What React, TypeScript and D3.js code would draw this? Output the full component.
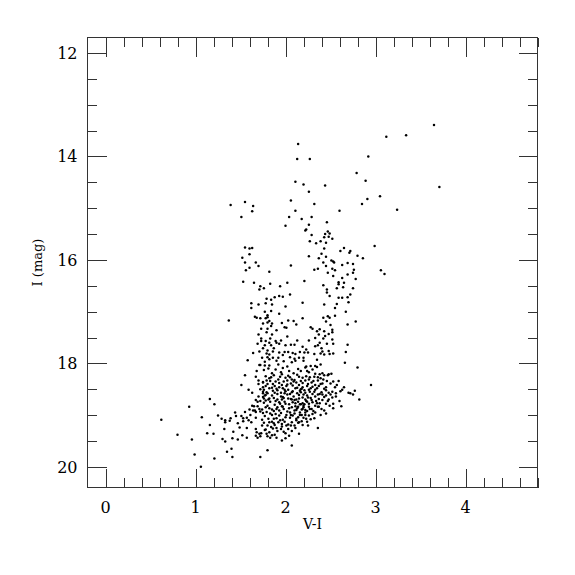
import React from 'react';
import * as d3 from 'd3';

type Pt = [number, number];

// Bright, sparse stars (upper part of the diagram)
const brightStars: Pt[] = [
  [3.65,13.39],[3.12,13.62],[3.34,13.59],[2.14,13.76],[2.13,14.05],[2.27,14.05],[2.92,14.0],[2.79,14.32],[2.89,14.47],[3.71,14.59],
  [2.11,14.49],[2.2,14.54],[2.44,14.56],[2.26,14.68],[2.06,14.85],[2.32,14.92],[2.91,14.82],[2.85,14.92],[3.05,14.77],[3.24,15.03],
  [2.6,15.05],[1.39,14.94],[1.55,14.88],[1.64,14.96],[1.63,15.06],[1.51,15.17],[2.11,15.05],[2.04,15.17],[2.18,15.21],[2.29,15.17],
  [2.0,15.34],[2.26,15.32],[2.46,15.27],[2.23,15.41],[2.22,15.43],[2.29,15.52],[2.44,15.5],[2.47,15.45],[2.49,15.49],[2.43,15.56],
  [2.48,15.55],[2.52,15.59],[3.06,16.2],[3.1,16.27],
];

// Red branch between I = 15.6 and 18
const redBranch: Pt[] = [
  [2.39,15.64],[2.27,15.64],[2.34,15.68],[2.45,15.67],[2.43,15.78],[2.65,15.77],[2.72,15.83],[2.71,15.86],[2.61,15.83],[2.99,15.73],
  [2.4,15.88],[2.45,15.94],[2.37,15.97],[2.26,15.93],[2.51,16.01],[2.53,16.03],[2.54,16.05],[2.42,16.05],[2.45,16.12],[2.86,15.97],
  [2.8,15.92],[2.69,16.06],[2.75,16.08],[2.63,16.1],[2.36,16.17],[2.32,16.19],[2.52,16.17],[2.55,16.2],[2.76,16.19],[2.75,16.25],
  [2.47,16.25],[2.53,16.31],[2.69,16.28],[2.63,16.35],[2.78,16.37],[2.59,16.43],[2.65,16.44],[2.59,16.47],[2.21,16.41],[2.42,16.49],
  [2.64,16.53],[2.57,16.55],[2.75,16.55],[2.46,16.57],[2.46,16.63],[2.72,16.67],[2.49,16.7],[2.59,16.73],[2.63,16.73],[2.69,16.72],
  [2.57,16.85],[2.7,16.82],[2.43,16.86],[2.55,16.93],[2.67,17.0],[2.55,17.08],[2.47,17.09],[2.42,17.12],[2.49,17.12],[2.45,17.19],
  [2.5,17.26],[2.78,17.19],[2.69,17.25],[2.52,17.35],[2.28,17.3],[2.3,17.33],[2.38,17.34],[2.35,17.38],[2.43,17.38],[2.48,17.43],
  [2.52,17.4],[2.37,17.44],[2.44,17.47],[2.33,17.51],[2.42,17.52],[2.52,17.54],[2.26,17.56],[2.38,17.6],[2.46,17.62],[2.53,17.62],
  [2.33,17.67],[2.36,17.65],[2.4,17.71],[2.23,17.73],[2.41,17.77],[2.48,17.76],[2.69,17.64],[2.19,17.68],[2.32,17.82],[2.39,17.81],
  [2.43,17.83],[2.49,17.82],[2.53,17.81],[2.67,17.78],[2.16,17.78],[2.21,17.79],[2.25,17.79],[2.11,17.82],[2.15,17.89],[2.2,17.89],
  [2.35,17.93],
];

// Bluer stars between I = 15.6 and 18
const blueSide: Pt[] = [
  [1.55,15.76],[1.6,15.78],[1.63,15.77],[1.6,15.89],[1.52,15.96],[1.55,16.05],[1.67,16.05],[1.7,16.12],[1.6,16.15],[1.56,16.2],
  [1.82,16.23],[2.06,16.11],[1.53,16.42],[1.65,16.44],[1.83,16.46],[1.72,16.51],[1.76,16.55],[1.71,16.57],[1.94,16.51],[2.02,16.44],
  [2.05,16.67],[1.93,16.7],[1.97,16.71],[1.88,16.72],[1.79,16.75],[1.84,16.77],[1.62,16.84],[1.78,16.84],[1.85,16.86],[1.7,16.86],
  [2.0,16.9],[1.62,16.93],[2.19,16.83],[1.77,17.0],[1.84,16.99],[1.8,17.07],[1.93,17.04],[1.66,17.1],[1.68,17.12],[1.78,17.13],
  [1.8,17.11],[1.72,17.13],[1.82,17.18],[1.37,17.17],[1.75,17.23],[1.8,17.21],[1.85,17.23],[1.96,17.22],[2.03,17.17],[2.09,17.18],
  [2.12,17.25],[1.99,17.3],[2.01,17.31],[1.84,17.28],[1.73,17.33],[1.8,17.33],[1.79,17.4],[1.7,17.44],[1.85,17.44],[1.9,17.36],
  [2.19,17.13],[2.02,17.48],[1.73,17.52],[1.73,17.57],[1.83,17.52],[1.78,17.57],[1.82,17.6],[1.89,17.57],[1.9,17.6],[1.93,17.62],
  [1.95,17.56],[1.69,17.62],[2.0,17.65],[1.77,17.65],[1.84,17.65],[2.06,17.64],[2.1,17.64],[2.13,17.56],[1.75,17.71],[1.87,17.71],
  [1.8,17.75],[1.71,17.77],[1.86,17.77],[1.93,17.79],[1.99,17.78],[2.03,17.78],[1.64,17.8],[1.79,17.81],[1.82,17.83],[1.97,17.84],
  [2.08,17.8],[1.74,17.89],[1.8,17.88],[1.86,17.89],[1.92,17.89],[2.05,17.88],[2.1,17.91],[1.82,17.92],
];

// Faint blue stars (V-I < 1.78, I > 17.9)
const faintBlue: Pt[] = [
  [1.58,17.94],[1.71,18.03],[1.72,18.03],[1.77,18.04],[1.68,18.15],[1.55,18.23],[1.67,18.26],[1.7,18.33],[1.75,18.37],[1.7,18.4],
  [1.51,18.42],[1.75,18.46],[1.72,18.5],[1.59,18.51],[1.63,18.57],[1.75,18.55],[1.75,18.58],[1.77,18.62],[1.7,18.64],[1.67,18.71],
  [1.69,18.74],[1.72,18.73],[1.76,18.68],[1.65,18.83],[1.69,18.83],[1.71,18.88],[1.72,18.93],[1.64,18.91],[1.66,18.91],[1.6,18.89],
  [1.67,18.94],[1.61,19.0],[1.63,18.82],[1.55,18.94],[1.51,19.02],[1.44,18.95],[1.45,19.02],[1.39,19.06],[1.38,19.11],[1.47,19.16],
  [1.53,19.12],[1.53,19.06],[1.57,19.05],[1.59,19.1],[1.62,19.14],[1.67,19.05],[1.75,18.96],[1.74,19.09],[1.67,19.27],[1.74,19.2],
  [1.68,19.33],[1.71,19.36],[1.73,19.35],[1.69,19.44],[1.72,19.41],[1.77,19.29],[1.67,19.4],[1.57,19.44],[1.57,19.25],[1.49,19.24],
  [1.52,19.39],[1.47,19.47],[1.42,19.32],[1.41,19.45],[1.16,18.69],[1.21,18.79],[0.93,18.84],[1.07,19.04],[1.25,19.01],[1.29,19.07],
  [1.33,19.1],[1.33,19.14],[0.62,19.09],[1.16,19.19],[1.2,19.36],[1.13,19.35],[1.32,19.27],[0.8,19.38],[0.96,19.47],[1.3,19.46],
  [1.33,19.51],[1.4,19.65],[1.35,19.71],[0.99,19.76],[1.21,19.84],[1.41,19.81],[1.72,19.81],[1.06,20.0],
];

// Dense faint clump (V-I > 1.74, I > 17.9)
const denseClump: Pt[] = [
  [1.77,17.97],[1.82,18.04],[1.9,17.95],[1.92,18.02],[1.98,17.96],[2.02,18.06],[2.07,17.98],[2.11,17.95],[2.2,17.95],[2.23,18.06],
  [2.28,18.05],[2.33,18.05],[2.35,18.07],[2.39,18.02],[2.66,17.99],[2.8,18.08],
  [1.76,18.13],[1.81,18.1],[1.85,18.19],[1.89,18.12],[1.95,18.17],[1.97,18.09],[2.04,18.15],[2.09,18.19],[2.14,18.11],[2.17,18.15],
  [2.22,18.08],[2.26,18.17],[2.3,18.12],[2.38,18.21],[2.41,18.19],[2.47,18.23],[2.51,18.2],
  [1.78,18.25],[1.82,18.29],[1.87,18.23],[1.92,18.31],[1.96,18.21],[2.0,18.28],[2.03,18.24],[2.07,18.31],[2.13,18.22],[2.19,18.28],
  [2.23,18.25],[2.26,18.31],[2.32,18.26],[2.36,18.33],[2.39,18.29],[2.43,18.23],[2.48,18.21],[2.53,18.35],[2.59,18.34],
  [1.75,18.36],[1.8,18.4],[1.83,18.34],[1.88,18.44],[1.93,18.38],[1.96,18.42],[1.98,18.35],[2.01,18.44],[2.06,18.39],[2.09,18.35],
  [2.15,18.42],[2.19,18.38],[2.24,18.44],[2.29,18.37],[2.33,18.42],[2.39,18.4],[2.41,18.39],[2.45,18.46],[2.5,18.39],[2.55,18.46],
  [2.57,18.42],[2.65,18.46],[2.95,18.42],
  [1.76,18.51],[1.79,18.56],[1.82,18.48],[1.86,18.53],[1.9,18.49],[1.95,18.57],[1.97,18.48],[2.0,18.54],[2.03,18.51],[2.07,18.56],
  [2.11,18.48],[2.16,18.53],[2.18,18.49],[2.22,18.57],[2.26,18.51],[2.32,18.55],[2.35,18.48],[2.4,18.56],[2.45,18.52],[2.48,18.57],
  [2.52,18.55],[2.56,18.58],[2.61,18.54],[2.63,18.51],[2.7,18.57],[2.72,18.58],[2.77,18.53],
  [1.75,18.65],[1.78,18.61],[1.82,18.68],[1.85,18.62],[1.91,18.7],[1.95,18.64],[1.98,18.67],[2.02,18.6],[2.06,18.69],[2.09,18.64],
  [2.12,18.7],[2.15,18.61],[2.19,18.66],[2.22,18.7],[2.24,18.62],[2.28,18.67],[2.33,18.64],[2.37,18.69],[2.43,18.65],[2.45,18.62],
  [2.48,18.7],[2.52,18.66],[2.56,18.64],[2.75,18.6],[2.82,18.7],
  [1.76,18.76],[1.8,18.82],[1.83,18.74],[1.88,18.8],[1.93,18.75],[1.96,18.83],[1.99,18.74],[2.04,18.79],[2.08,18.75],[2.11,18.83],
  [2.14,18.74],[2.17,18.79],[2.19,18.77],[2.2,18.82],[2.23,18.73],[2.26,18.78],[2.3,18.75],[2.33,18.82],[2.38,18.77],[2.45,18.78],
  [2.53,18.78],[2.6,18.73],[2.62,18.83],
  [1.74,18.89],[1.79,18.94],[1.82,18.87],[1.87,18.92],[1.91,18.85],[1.95,18.96],[1.98,18.88],[2.02,18.93],[2.07,18.85],[2.1,18.91],
  [2.13,18.87],[2.16,18.95],[2.18,18.89],[2.2,18.85],[2.24,18.92],[2.29,18.88],[2.33,18.95],[2.37,18.84],[2.43,18.91],[2.45,18.97],
  [2.53,18.87],
  [1.77,19.02],[1.81,19.07],[1.85,19.0],[1.9,19.06],[1.93,19.01],[1.97,19.09],[2.01,19.0],[2.05,19.05],[2.08,19.01],[2.12,19.07],
  [2.16,19.0],[2.2,19.05],[2.26,19.01],[2.32,19.06],[2.39,19.0],
  [1.76,19.15],[1.8,19.2],[1.85,19.13],[1.88,19.19],[1.92,19.14],[1.96,19.22],[1.99,19.13],[2.03,19.18],[2.07,19.14],[2.1,19.2],
  [2.15,19.14],[2.19,19.19],[2.24,19.13],
  [1.78,19.28],[1.82,19.33],[1.86,19.26],[1.91,19.31],[1.95,19.27],[1.98,19.32],[2.03,19.27],[2.07,19.31],[2.15,19.36],[2.36,19.25],
  [1.8,19.41],[1.83,19.44],[1.85,19.39],[1.9,19.44],[1.96,19.49],[2.0,19.45],[2.07,19.59],[1.8,19.68],
  [1.91,18.59],[1.97,18.65],[2.05,18.59],[2.1,18.71],[2.17,18.56],[2.21,18.52],[2.25,18.66],[2.3,18.59],[2.34,18.73],[2.27,18.88],
  [2.14,18.84],[2.18,19.0],[2.22,18.95],[2.1,18.97],[2.04,18.87],[2.0,18.78],[1.96,18.7],[1.89,18.73],[1.85,18.89],[1.81,18.7],
  [1.93,18.46],[2.02,18.33],[2.12,18.37],[2.22,18.33],[2.28,18.48],[2.33,18.51],[2.38,18.59],[2.41,18.71],[2.36,18.84],[2.3,18.98],
  [2.23,19.07],[2.14,19.15],[2.06,19.2],[1.96,19.17],[1.82,19.14],[1.87,19.07],[1.93,18.91],[2.07,18.7],[2.16,18.79],[2.19,18.88],
  [2.24,18.74],[2.08,18.43],[1.99,18.51],[1.85,18.47],[1.79,18.33],[2.19,18.46],[2.46,18.34],[2.33,18.2],[2.24,18.15],[2.15,18.26],
];

// Additional stars filling the core of the clump
const clumpCore: Pt[] = [
  [1.84,18.27],[1.89,18.35],[1.94,18.26],[2.05,18.27],[2.1,18.32],[2.17,18.34],[2.27,18.27],[2.31,18.34],[2.36,18.27],[2.42,18.31],
  [1.78,18.44],[1.86,18.4],[1.91,18.52],[2.02,18.41],[2.13,18.47],[2.17,18.5],[2.25,18.4],[2.3,18.45],[2.37,18.44],[2.43,18.49],
  [1.8,18.58],[1.88,18.57],[1.99,18.58],[2.08,18.54],[2.13,18.58],[2.2,18.6],[2.27,18.55],[2.36,18.6],[2.41,18.6],[2.5,18.6],
  [1.78,18.72],[1.87,18.67],[1.94,18.78],[2.03,18.68],[2.11,18.77],[2.15,18.68],[2.21,18.79],[2.29,18.71],[2.35,18.77],[2.47,18.73],
  [1.78,18.85],[1.9,18.88],[1.97,18.84],[2.05,18.95],[2.12,18.9],[2.22,18.9],[2.26,18.84],[2.31,18.92],[2.4,18.88],[2.49,18.82],
  [1.83,18.97],[1.89,18.98],[2.0,19.04],[2.06,19.0],[2.14,19.04],[2.22,19.0],[2.28,19.08],[1.87,19.16],[1.94,19.1],[2.01,19.2],
  [2.12,19.1],[2.18,19.12],[1.84,19.23],[1.9,19.25],[2.0,19.35],[2.11,19.25],[2.25,19.2],[1.88,19.38],[1.79,19.36],[2.04,19.4],
];

const xMajorTicks = [0, 1, 2, 3, 4];
const yMajorTicks = [12, 14, 16, 18, 20];
const xMinorTicks = d3.range(0, 4.81, 0.2);
const yMinorTicks = d3.range(12, 20.01, 0.5);
const xTitle = 'V-I';
const yTitle = 'I (mag)';

export default function App() {
  const x = d3.scaleLinear().domain([-0.2, 4.8]).range([87.5, 537.5]);
  const y = d3.scaleLinear().domain([11.7, 20.4]).range([37.5, 487.5]);
  const [x0, x1] = x.range();
  const [y0, y1] = y.range();
  const all = [...brightStars, ...redBranch, ...blueSide, ...faintBlue, ...denseClump, ...clumpCore];
  const font = "'DejaVu Serif', 'Liberation Serif', serif";
  const stroke = '#333';
  const majLen = 19;
  const minLen = 9.5;
  const isMajorX = (v: number) => xMajorTicks.some(m => Math.abs(m - v) < 1e-6);
  const isMajorY = (v: number) => yMajorTicks.some(m => Math.abs(m - v) < 1e-6);

  return (
    <svg width={575} height={575} style={{ position: 'absolute', left: 0, top: 0, background: '#fff' }}>
      <rect x={0} y={0} width={575} height={575} fill="#fff" />
      <g>
        {all.map((d, i) => (
          <circle key={i} cx={x(d[0])} cy={y(d[1])} r={1.25} fill="#000" />
        ))}
      </g>
      <rect x={x0} y={y0} width={x1 - x0} height={y1 - y0} fill="none" stroke={stroke} strokeWidth={1} shapeRendering="crispEdges" />
      <g stroke={stroke} strokeWidth={1} shapeRendering="crispEdges">
        {xMinorTicks.map((v, i) => {
          const len = isMajorX(v) ? majLen : minLen;
          const px = Math.round(x(v)) + 0.5;
          return (
            <g key={'xt' + i}>
              <line x1={px} x2={px} y1={y1} y2={y1 - len} />
              <line x1={px} x2={px} y1={y0} y2={y0 + len} />
            </g>
          );
        })}
        {yMinorTicks.map((v, i) => {
          const len = isMajorY(v) ? majLen : minLen;
          const py = Math.round(y(v)) + 0.5;
          return (
            <g key={'yt' + i}>
              <line x1={x0} x2={x0 + len} y1={py} y2={py} />
              <line x1={x1} x2={x1 - len} y1={py} y2={py} />
            </g>
          );
        })}
      </g>
      <g fontFamily={font} fontSize={16} fill="#000">
        {xMajorTicks.map(v => (
          <text key={'xl' + v} x={x(v)} y={513} textAnchor="middle">{v}</text>
        ))}
        {yMajorTicks.map(v => (
          <text key={'yl' + v} x={77.5} y={y(v) + 6} textAnchor="end">{v}</text>
        ))}
      </g>
      <text x={(x0 + x1) / 2} y={529} textAnchor="middle" fontFamily={font} fontSize={14}>{xTitle}</text>
      <text transform={`translate(42, ${(y0 + y1) / 2}) rotate(-90)`} textAnchor="middle" fontFamily={font} fontSize={13}>{yTitle}</text>
    </svg>
  );
}
